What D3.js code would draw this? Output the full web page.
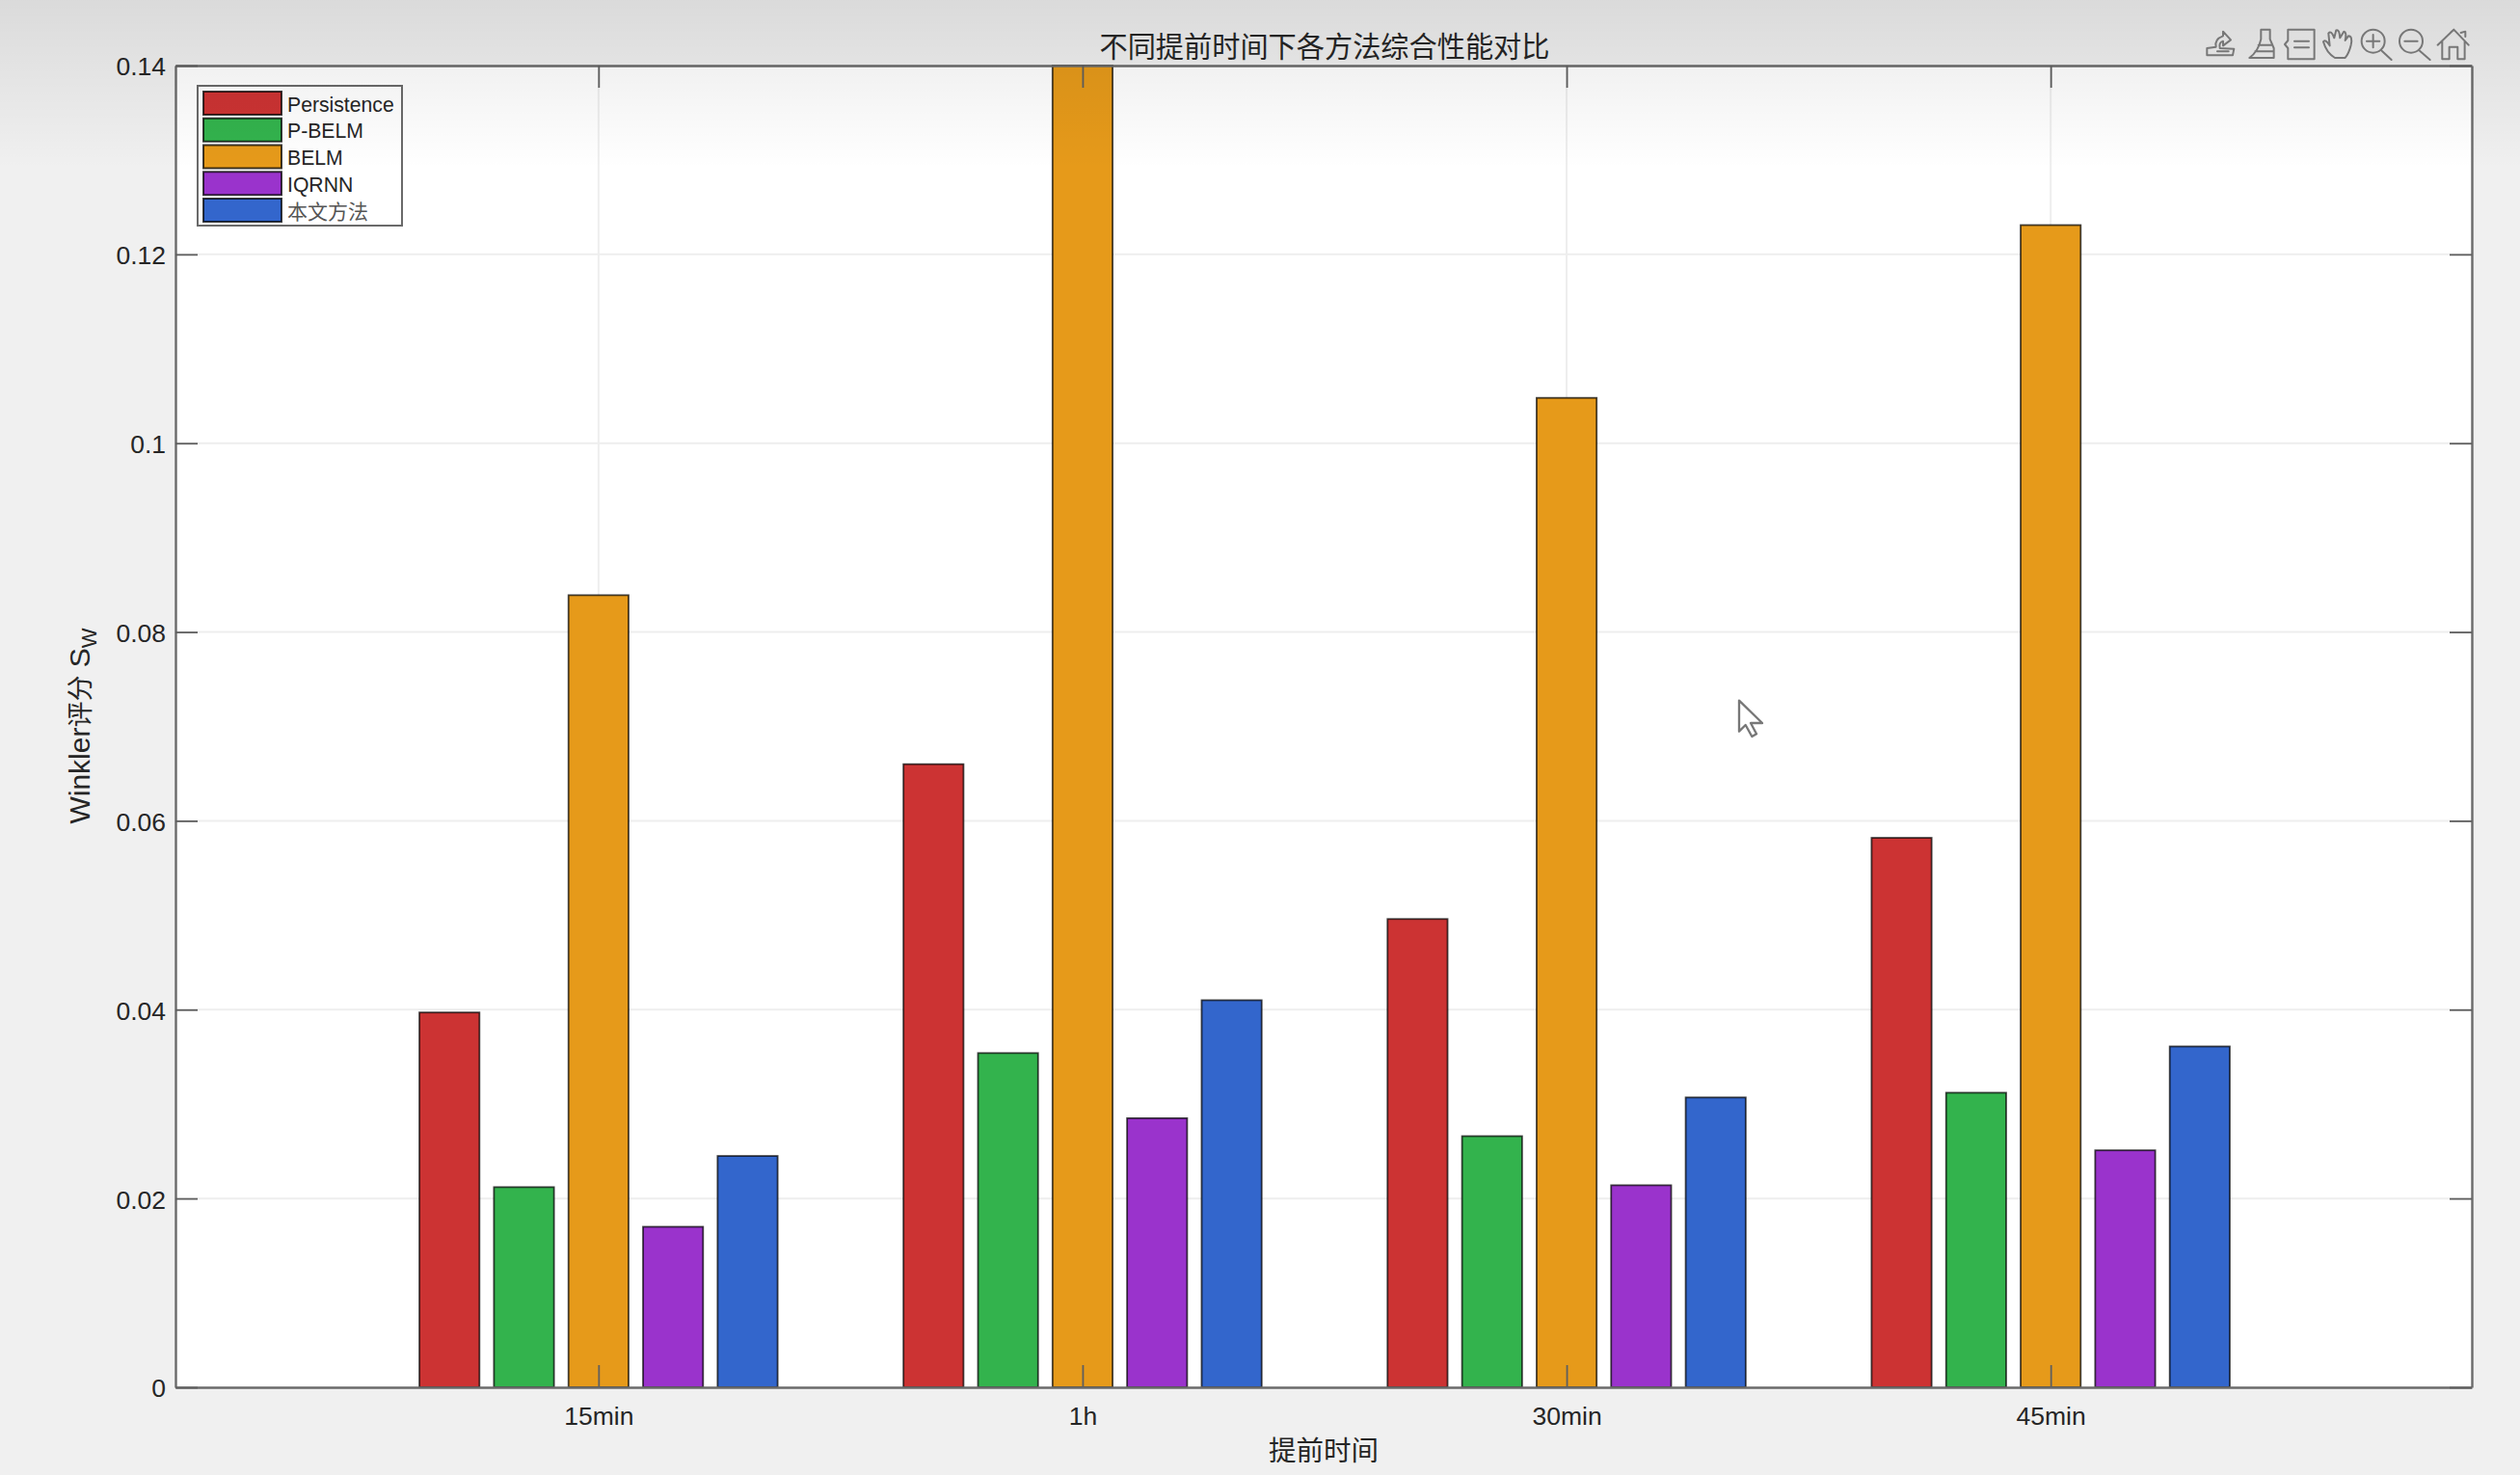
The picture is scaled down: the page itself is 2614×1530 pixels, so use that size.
<!DOCTYPE html>
<html><head><meta charset="utf-8">
<script src="https://cdn.jsdelivr.net/npm/d3@7"></script>
<style>html,body{margin:0;padding:0;background:#f0f0f0;overflow:hidden}svg{display:block}
text{font-family:"Liberation Sans",Arial,sans-serif;fill:#262626}
.cjk{font-family:"Noto Sans CJK SC",sans-serif}</style></head><body>
<script>
const categories = ["15min","1h","30min","45min"];
const methods = ["Persistence","P-BELM","BELM","IQRNN","本文方法"];
const colors = ["#cc3333","#33b34d","#e69a1a","#9a33cc","#3366cc"];
const persistence = [0.0397,0.0660,0.0496,0.0582];
const pBelm = [0.0212,0.0354,0.0266,0.0312];
const belm = [0.0839,0.1400,0.1048,0.1231];
const iqrnn = [0.0170,0.0285,0.0214,0.0251];
const proposed = [0.0245,0.0410,0.0307,0.0361];
const seriesValues = [persistence,pBelm,belm,iqrnn,proposed];
const yTicks = [0,0.02,0.04,0.06,0.08,0.1,0.12,0.14];
const titleText = "不同提前时间下各方法综合性能对比";
const xLabelText = "提前时间";

const W=2614,H=1530,L=182,R=2564,T=68,B=1439;
const svg=d3.select("body").append("svg").attr("width",W).attr("height",H);
const x=d3.scaleLinear().domain([0.126,4.870]).range([L,R]);
const y=d3.scaleLinear().domain([0,0.14]).range([B,T]);
const barStep=0.154, barW=0.124;

svg.append("rect").attr("width",W).attr("height",H).attr("fill","#f0f0f0");
svg.append("rect").attr("x",L).attr("y",T).attr("width",R-L).attr("height",B-T).attr("fill","#fff");

// grid
const gridG=svg.append("g");
gridG.selectAll(".gy").data(yTicks.slice(1,-1)).join("line")
  .attr("x1",L).attr("x2",R).attr("y1",d=>y(d)).attr("y2",d=>y(d)).attr("stroke","#eeeeee").attr("stroke-width",2);
gridG.selectAll(".gx").data(categories).join("line")
  .attr("y1",T).attr("y2",B).attr("x1",(d,i)=>x(i+1)).attr("x2",(d,i)=>x(i+1)).attr("stroke","#eeeeee").attr("stroke-width",2);

// bars
seriesValues.forEach((vals,s)=>{
  svg.append("g").selectAll("rect").data(vals).join("rect")
    .attr("x",(d,i)=>x(i+1+(s-2)*barStep-barW/2))
    .attr("width",x(barW)-x(0))
    .attr("y",d=>y(d))
    .attr("height",d=>y(0)-y(d))
    .attr("fill",colors[s])
    .attr("stroke","#000").attr("stroke-opacity",0.72).attr("stroke-width",1.8);
});

// axes
const xt=[1,2,3,4], fmtX=d=>categories[d-1], tl=23;
function styleAxis(g){g.select(".domain").attr("stroke","#6a6a6a").attr("stroke-width",2.4);
  g.selectAll(".tick line").attr("stroke","#5f5f5f").attr("stroke-width",1.8);
  g.attr("font-family",null).attr("font-size",null);
  g.selectAll("text").style("font-size","26.5px");}
const ax=(a)=>a.tickSizeOuter(0);
svg.append("g").attr("transform",`translate(0,${B})`)
  .call(ax(d3.axisBottom(x).tickValues(xt).tickFormat(fmtX).tickSizeInner(-tl).tickPadding(20))).call(styleAxis);
svg.append("g").attr("transform",`translate(0,${T})`)
  .call(ax(d3.axisTop(x).tickValues(xt).tickFormat("").tickSizeInner(-tl))).call(styleAxis);
const leftAxis=svg.append("g").attr("transform",`translate(${L},0)`)
  .call(ax(d3.axisLeft(y).tickValues(yTicks).tickFormat(d=>String(d)).tickSizeInner(-tl).tickPadding(10))).call(styleAxis);
leftAxis.selectAll("text").attr("transform","translate(0,1.5)");
svg.append("g").attr("transform",`translate(${R},0)`)
  .call(ax(d3.axisRight(y).tickValues(yTicks).tickFormat("").tickSizeInner(-tl))).call(styleAxis);

// titles
svg.append("text").attr("class","cjk").attr("x",1374).attr("y",59).attr("text-anchor","middle")
  .style("font-size","29.2px").text(titleText);
svg.append("text").attr("class","cjk").attr("x",1373).attr("y",1515).attr("text-anchor","middle")
  .style("font-size","28.5px").text(xLabelText);
const yl=svg.append("text").attr("transform","translate(93,753) rotate(-90)").attr("text-anchor","middle").style("font-size","30px");
yl.append("tspan").text("Winkler");
yl.append("tspan").attr("class","cjk").style("font-size","27px").text("评分");
yl.append("tspan").text(" S");
yl.append("tspan").attr("dy",7).style("font-size","22px").text("W");

// legend
const lg=svg.append("g");
lg.append("rect").attr("x",205).attr("y",89).attr("width",212).attr("height",145).attr("fill","#fff").attr("stroke","#6a6a6a").attr("stroke-width",2);
const rowY=d3.scalePoint().domain(methods).range([107,218]);
methods.forEach((m,i)=>{
  lg.append("rect").attr("x",211).attr("y",rowY(m)-12).attr("width",81).attr("height",24)
    .attr("fill",colors[i]).attr("stroke","#000").attr("stroke-opacity",.75).attr("stroke-width",2);
  lg.append("text").attr("x",298).attr("y",rowY(m)+1).attr("dy","0.36em")
    .attr("class",i==4?"cjk":null).style("font-size",i==4?"21px":"21.2px").style("fill",i==4?"#555":"#262626").text(m);
});

// top shading of the recording
const defs=svg.append("defs");
const gr=defs.append("linearGradient").attr("id","topShade").attr("x1",0).attr("x2",0).attr("y1",0).attr("y2",1);
gr.append("stop").attr("offset",0).attr("stop-color","#000").attr("stop-opacity",.09);
gr.append("stop").attr("offset",1).attr("stop-color","#000").attr("stop-opacity",0);
svg.append("rect").attr("width",W).attr("height",175).attr("fill","url(#topShade)");

// toolbar icons
const tb=svg.append("g").attr("transform","translate(2200,0) scale(0.3333)")
  .attr("fill","none").attr("stroke","#777").attr("stroke-width",6).attr("stroke-linejoin","round").attr("stroke-linecap","round");
[
 "M268 172V150L296 146Q290 122 318 112V98L342 124L318 142V128Q304 132 308 150L352 152L348 172Z M300 160H335",
 "M436 92H464V122L476 150V180H400Q428 160 436 122Z M428 140H472 M418 160H474",
 "M520 92H602V184H520V150L510 138L520 126Z M540 128H585 M540 148H585",
 "M666 180Q640 165 630 130Q636 120 650 142L646 104Q654 92 664 118L670 94Q680 90 682 118L694 98Q704 100 698 126L708 112Q722 112 716 140Q710 165 698 180Z",
 "M785 92A36 36 0 1 0 785.1 164A36 36 0 1 0 785 92Z M765 128H805 M785 108V148 M812 158L842 186",
 "M903 92A36 36 0 1 0 903.1 164A36 36 0 1 0 903 92Z M883 128H923 M930 158L962 186",
 "M986 140L1036 92L1082 140 M1000 128V184H1022V146H1048V184H1070V128 M1058 102L1072 98V114"
].forEach(d=>tb.append("path").attr("d",d));

// cursor
svg.append("path").attr("transform","translate(1700,650) scale(0.3333)")
  .attr("d","M312 230V326L332 306L352 342L366 334L348 300H384Z")
  .attr("fill","#fff").attr("stroke","#777").attr("stroke-width",7).attr("stroke-linejoin","round");
</script></body></html>
